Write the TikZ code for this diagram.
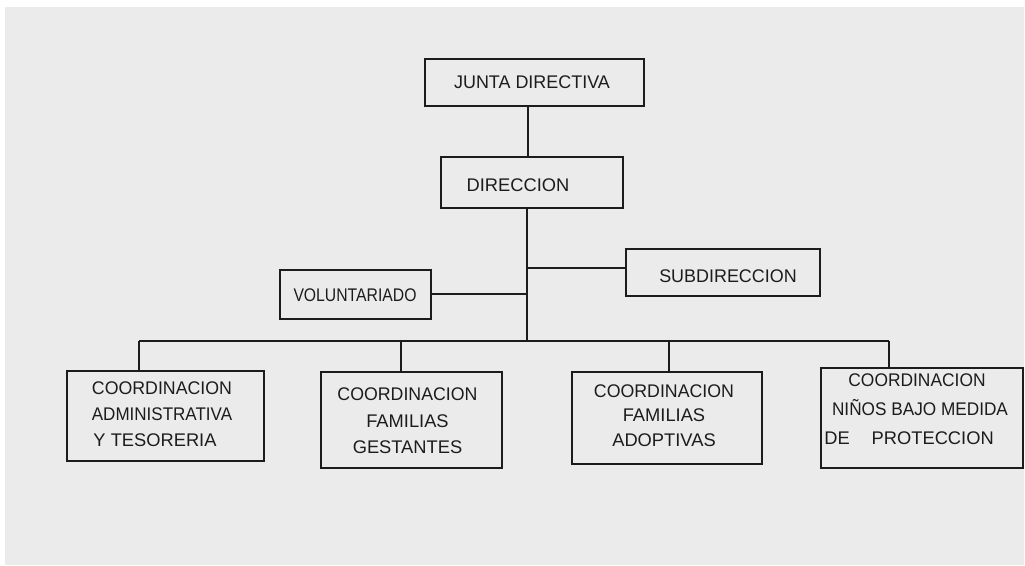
\documentclass[tikz,border=0pt]{standalone}
\usepackage{fontspec}
\setmainfont{Liberation Sans}
\definecolor{bg}{HTML}{EBEBEB}
\definecolor{ink}{HTML}{1C1C1C}
\begin{document}
\begin{tikzpicture}[x=1pt,y=-1pt,
  box/.style={draw=ink,line width=2pt,rectangle,inner sep=0pt},
  lbl/.style={inner sep=0pt,text=ink,font=\fontsize{18.3}{26}\selectfont,align=center},
  conn/.style={draw=ink,line width=2pt}]
\useasboundingbox (0,0) rectangle (1025,565);
\fill[white] (0,0) rectangle (1025,565);
\fill[bg] (5,7) rectangle (1024,565);
% boxes
\node[box,minimum width=219pt,minimum height=47pt] (jd) at (534.5,82.5) {};
\node[box,minimum width=182pt,minimum height=51pt] (dir) at (531.5,182.5) {};
\node[box,minimum width=194pt,minimum height=47pt] (sub) at (723,272.5) {};
\node[box,minimum width=151pt,minimum height=49pt] (vol) at (355.5,294.5) {};
\node[box,minimum width=197pt,minimum height=90pt] (c1) at (165.5,415.5) {};
\node[box,minimum width=181pt,minimum height=96pt] (c2) at (411,420) {};
\node[box,minimum width=190pt,minimum height=92pt] (c3) at (667,418) {};
\node[box,minimum width=202pt,minimum height=100pt] (c4) at (921.5,417.5) {};
% labels
\node[lbl] (jdt) at (532,82) {\scalebox{0.98}[1]{JUNTA DIRECTIVA}};
\node[lbl] (dirt) at (518,185) {DIRECCION};
\node[lbl] (subt) at (728,276) {\scalebox{0.98}[1]{SUBDIRECCION}};
\node[lbl] (volt) at (355,295.5) {\scalebox{0.86}[1]{VOLUNTARIADO}};
\node[lbl] (c1t) at (162,414) {\scalebox{0.97}[1]{COORDINACION}\\\scalebox{0.93}[1]{ADMINISTRATIVA}\\\hspace*{-14pt}Y TESORERIA};
\node[lbl,font=\fontsize{18.3}{26.5}\selectfont] (c2t) at (407.5,421) {\scalebox{0.97}[1]{COORDINACION}\\FAMILIAS\\GESTANTES};
\node[lbl,font=\fontsize{18.3}{24.5}\selectfont] (c3t) at (664,415.5) {\scalebox{0.97}[1]{COORDINACION}\\FAMILIAS\\ADOPTIVAS};
\node[lbl,font=\fontsize{18.3}{29}\selectfont] (c4t) at (920,409) {\hspace*{-6pt}\scalebox{0.95}[1]{COORDINACION}\\\scalebox{0.94}[1]{NIÑOS BAJO MEDIDA}\\\hspace*{-22pt}DE\hspace{22pt}PROTECCION};
% connectors
\coordinate (jds) at (528,0);
\coordinate (bus) at (527,341);
\coordinate (jsub) at (527,268);
\coordinate (jvol) at (527,294);
\coordinate (b1) at (139,341);
\coordinate (b2) at (401,341);
\coordinate (b3) at (669,341);
\coordinate (b4) at (889,341);
\draw[conn] (jds |- jd.south) -- (jds |- dir.north);
\draw[conn] (dir.south -| bus) -- (bus);
\draw[conn] (jsub) -- (jsub -| sub.west);
\draw[conn] (jvol) -- (jvol -| vol.east);
\draw[conn] (b1) -- (b4);
\draw[conn] (b1) -- (b1 |- c1.north);
\draw[conn] (b2) -- (b2 |- c2.north);
\draw[conn] (b3) -- (b3 |- c3.north);
\draw[conn] (b4) -- (b4 |- c4.north);
\end{tikzpicture}
\end{document}
